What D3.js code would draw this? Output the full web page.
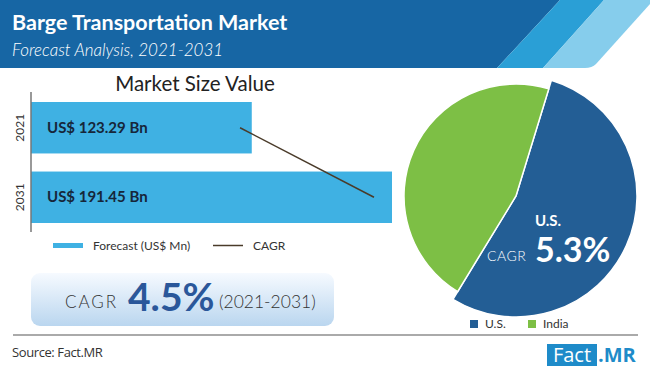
<!DOCTYPE html>
<html><head><meta charset="utf-8">
<script src="https://cdn.jsdelivr.net/npm/d3@7/dist/d3.min.js"></script>
<style>body{margin:0;background:#fff;}svg{display:block;font-family:Lato,"Open Sans",sans-serif;}</style>
</head><body>
<svg id="c" width="650" height="368"></svg>
<script>
// ---- data ----
const years = ["2021", "2031"];
const marketValues = [123.29, 191.45];          // US$ Bn
const barLabels = ["US$ 123.29 Bn", "US$ 191.45 Bn"];
const cagrLine = [117.6, 182.7];                  // CAGR trend line points
const cagrOverall = "4.5%";
const cagrPeriod = "(2021-2031)";
const regions = ["U.S.", "India"];
const regionShare = [54, 46];
const usCagr = "5.3%";

const svg = d3.select("#c");
const defs = svg.append("defs");

// ---- header ----
svg.append("polygon").attr("points","0,0 560,0 497,68 0,68").attr("fill","#1766a4");
svg.append("polygon").attr("points","560,0 604,0 543,68 497,68").attr("fill","#2a9fd6");
svg.append("path").attr("d","M604,0 L650,0 L650,4 L596,64 Q592,68 585,68 L543,68 Z").attr("fill","#86cdec");
svg.append("text").attr("x",12).attr("y",30).attr("fill","#fff").attr("font-size",21.5).attr("font-weight","bold")
  .text("Barge Transportation Market");
svg.append("text").attr("x",12).attr("y",56).attr("fill","#fff").attr("font-size",17).attr("font-style","italic").attr("font-weight",300)
  .text("Forecast Analysis, 2021-2031");

// ---- bar chart ----
const x = d3.scaleLinear().domain([16, d3.max(marketValues)]).range([31, 392]);
const y = d3.scaleBand().domain(years).range([102, 223]).paddingInner(0.26);

svg.append("text").attr("x",195).attr("y",91).attr("text-anchor","middle").attr("font-size",20.5).attr("fill","#222")
  .text("Market Size Value");

svg.selectAll("rect.bar").data(marketValues).join("rect").attr("class","bar")
  .attr("x", x.range()[0]).attr("y",(d,i)=>y(years[i]))
  .attr("width",d=>x(d)-x.range()[0]).attr("height",y.bandwidth()).attr("fill","#3fb1e3");

svg.selectAll("text.bl").data(barLabels).join("text").attr("class","bl")
  .attr("x",47).attr("y",(d,i)=>y(years[i])+y.bandwidth()/2+5).attr("font-size",15).attr("font-weight","bold")
  .attr("fill","#16263a").text(d=>d);

const yAxis = d3.axisLeft(y).tickSize(0).tickPadding(7);
const ag = svg.append("g").attr("transform","translate(31,0)").call(yAxis);
ag.select(".domain").remove();
ag.selectAll(".tick text").attr("font-size",12).attr("fill","#333").attr("font-family","Lato, sans-serif")
  .attr("x",null).attr("dy",null).attr("text-anchor","middle").attr("transform","translate(-7,0) rotate(-90)");
svg.append("line").attr("x1",31).attr("x2",31).attr("y1",92).attr("y2",232).attr("stroke","#777").attr("stroke-width",1.5);

const line = d3.line().x(d=>x(d.v)).y(d=>y(d.yr)+y.bandwidth()/2);
svg.append("path").datum(cagrLine.map((v,i)=>({v:v,yr:years[i]}))).attr("d",line)
  .attr("fill","none").attr("stroke","#4a3b2a").attr("stroke-width",1.5);

// legend
svg.append("rect").attr("x",53).attr("y",243).attr("width",30).attr("height",5).attr("fill","#3fb1e3");
svg.append("text").attr("x",93).attr("y",250).attr("font-size",12).attr("fill","#333").text("Forecast (US$ Mn)");
svg.append("line").attr("x1",213).attr("x2",243).attr("y1",245.5).attr("y2",245.5).attr("stroke","#4a3b2a").attr("stroke-width",1.5);
svg.append("text").attr("x",253).attr("y",250).attr("font-size",12).attr("fill","#333").text("CAGR");

// CAGR box
const g1 = defs.append("linearGradient").attr("id","bg").attr("x1",0).attr("y1",0).attr("x2",0).attr("y2",1);
g1.append("stop").attr("offset","0%").attr("stop-color","#f6faff");
g1.append("stop").attr("offset","100%").attr("stop-color","#bad6ef");
svg.append("rect").attr("x",31).attr("y",273).attr("width",303).attr("height",53).attr("rx",9).attr("fill","url(#bg)");
svg.append("text").attr("x",65).attr("y",308).attr("fill","#333").attr("font-size",17).attr("font-weight",300)
  .attr("letter-spacing",2).text("CAGR");
svg.append("text").attr("x",128).attr("y",311).attr("fill","#2a579a").attr("font-size",39).attr("font-weight","bold").text(cagrOverall);
svg.append("text").attr("x",219).attr("y",308).attr("fill","#333").attr("font-size",17.5).attr("font-weight",300).text(cagrPeriod);

// ---- pie ----
const pie = d3.pie().sort(null).startAngle(17*Math.PI/180).endAngle(17*Math.PI/180 + 2*Math.PI);
const arcs = pie(regionShare);
const colors = ["#235e95", "#7dbf45"];
const radii = [121, 112];
const pg = svg.append("g").attr("transform","translate(516,196)");
pg.selectAll("path").data(arcs).join("path")
  .attr("d",(d,i)=>d3.arc().innerRadius(0).outerRadius(radii[i])(d))
  .attr("fill",(d,i)=>colors[i]).attr("stroke","#fff").attr("stroke-width",1.5);
svg.append("text").attr("x",548).attr("y",226).attr("text-anchor","middle").attr("fill","#fff").attr("font-size",15).attr("font-weight","bold").text(regions[0]);
svg.append("text").attr("x",487).attr("y",261).attr("fill","#fff").attr("font-size",14).attr("font-weight",300)
  .attr("letter-spacing",0.5).text("CAGR");
svg.append("text").attr("x",535).attr("y",262).attr("fill","#fff").attr("font-size",34).attr("font-weight","bold").text(usCagr);

// pie legend
const lg = svg.selectAll("g.pl").data(regions).join("g").attr("class","pl")
  .attr("transform",(d,i)=>`translate(${i===0?470:528},320)`);
lg.append("rect").attr("width",8).attr("height",8).attr("fill",(d,i)=>colors[i]);
lg.append("text").attr("x",15).attr("y",8).attr("font-size",12).attr("fill","#333").text(d=>d);

// ---- footer ----
svg.append("line").attr("x1",13).attr("x2",638).attr("y1",335).attr("y2",335).attr("stroke","#aaa").attr("stroke-width",2);
svg.append("text").attr("x",12).attr("y",357).attr("font-size",13).attr("fill","#333").attr("font-family","'Open Sans',sans-serif").attr("letter-spacing",-0.4).text("Source: Fact.MR");
svg.append("rect").attr("x",547).attr("y",344).attr("width",50).attr("height",22).attr("fill","#1e8bc9");
svg.append("text").attr("x",572).attr("y",362).attr("text-anchor","middle").attr("font-size",20).attr("fill","#fff").attr("font-family","'Open Sans',sans-serif").text("Fact");
svg.append("text").attr("x",598).attr("y",362).attr("font-size",20).attr("font-weight","bold").attr("fill","#1e8bc9").attr("font-family","'Open Sans',sans-serif").text(".MR");
</script>
</body></html>
